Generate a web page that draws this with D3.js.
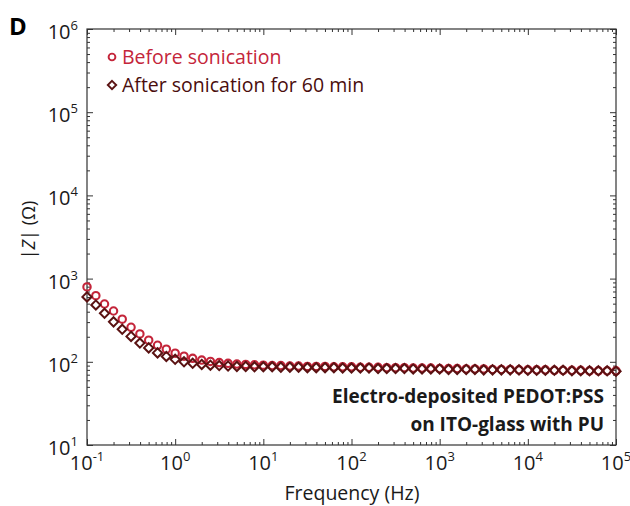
<!DOCTYPE html>
<html><head><meta charset="utf-8">
<script src="https://cdn.jsdelivr.net/npm/d3@7"></script>
<style>body{margin:0;background:#fff}svg{display:block}text{font-family:"Open Sans",sans-serif}</style>
</head><body><svg id="c" width="630" height="506"></svg>
<script>
const frequencies = [
 0.1,0.126,0.158,0.2,0.251,0.316,0.398,0.501,0.631,0.794,
 1,1.26,1.58,2,2.51,3.16,3.98,5.01,6.31,7.94,
 10,12.6,15.8,20,25.1,31.6,39.8,50.1,63.1,79.4,
 100,126,158,200,251,316,398,501,631,794,
 1000,1260,1580,2000,2510,3160,3980,5010,6310,7940,
 10000,12600,15800,20000,25100,31600,39800,50100,63100,79400,100000];
const beforeZ = [
 794,624,495,408,325,260,216,182,158,142,127,
 117,110,105,101,98,96,94,93,92,91,
 90,90,89,89,88,88,88,87,87,87,
 86,86,86,85,85,85,84,84,84,83,
 83,83,82,82,82,81,81,81,80,80,
 80,80,79,79,79,79,78,78,78,78];
const afterZ = [
 603,482,383,302,246,202,168,147,128,116,107,
 100,96,93,91,90,89,88,88,87,87,
 87,86,86,86,85,85,85,85,84,84,
 84,84,83,83,83,83,82,82,82,82,
 81,81,81,81,80,80,80,80,80,79,
 79,79,79,79,78,78,78,78,78,77];
const xMajor = [0.1,1,10,100,1000,10000,100000];
const xMajorExp = ["-1","0","1","2","3","4","5"];
const yMajor = [10,100,1000,10000,100000,1000000];
const yMajorExp = ["1","2","3","4","5","6"];
const seriesNames = ["Before sonication","After sonication for 60 min"];
const annotation = ["Electro-deposited PEDOT:PSS","on ITO-glass with PU"];

const svg = d3.select("#c");
const L=87,R=616,T=29,B=445;
const x = d3.scaleLog().domain([0.1,1e5]).range([L,R]);
const y = d3.scaleLog().domain([10,1e6]).range([B,T]);
const axisCol="#333";
const minors = (dom)=>{const out=[];for(let e=Math.log10(dom[0]);e<Math.log10(dom[1]);e++){for(let m=2;m<=9;m++)out.push(m*Math.pow(10,e));}return out;};
const xMin = minors([0.1,1e5]), yMin = minors([10,1e6]);

function styleAxis(g){g.selectAll("path").remove();g.selectAll("line").attr("stroke",axisCol).attr("stroke-width",1);g.selectAll("text").remove();}
svg.append("g").attr("transform",`translate(0,${B})`).call(d3.axisBottom(x).tickValues(xMajor).tickSize(-6)).call(styleAxis);
svg.append("g").attr("transform",`translate(0,${B})`).call(d3.axisBottom(x).tickValues(xMin).tickSize(-3)).call(styleAxis);
svg.append("g").attr("transform",`translate(0,${T})`).call(d3.axisTop(x).tickValues(xMajor).tickSize(-6)).call(styleAxis);
svg.append("g").attr("transform",`translate(0,${T})`).call(d3.axisTop(x).tickValues(xMin).tickSize(-3)).call(styleAxis);
svg.append("g").attr("transform",`translate(${L},0)`).call(d3.axisLeft(y).tickValues(yMajor).tickSize(-6)).call(styleAxis);
svg.append("g").attr("transform",`translate(${L},0)`).call(d3.axisLeft(y).tickValues(yMin).tickSize(-3)).call(styleAxis);
svg.append("g").attr("transform",`translate(${R},0)`).call(d3.axisRight(y).tickValues(yMajor).tickSize(-6)).call(styleAxis);
svg.append("g").attr("transform",`translate(${R},0)`).call(d3.axisRight(y).tickValues(yMin).tickSize(-3)).call(styleAxis);
svg.append("rect").attr("x",L).attr("y",T).attr("width",R-L).attr("height",B-T).attr("fill","none").attr("stroke",axisCol).attr("stroke-width",1.2);

// tick labels
xMajor.forEach((v,i)=>{
  const t=svg.append("text").attr("x",x(v)).attr("y",470).attr("text-anchor","middle").attr("font-size",20).attr("fill","#1a1a1a");
  t.append("tspan").text("10");
  t.append("tspan").attr("font-size",13).attr("dy",-9).text(xMajorExp[i]);
});
yMajor.forEach((v,i)=>{
  const t=svg.append("text").attr("x",78).attr("y",y(v)+10).attr("text-anchor","end").attr("font-size",20).attr("fill","#1a1a1a");
  t.append("tspan").text("10");
  t.append("tspan").attr("font-size",13).attr("dy",-9).text(yMajorExp[i]);
});

// axis titles
svg.append("text").attr("x",352).attr("y",500).attr("text-anchor","middle").attr("font-size",19.5).attr("fill","#1a1a1a").text("Frequency (Hz)");
const yt=svg.append("text").attr("transform","translate(35,230) rotate(-90)").attr("text-anchor","middle").attr("font-size",18).attr("fill","#1a1a1a");
yt.append("tspan").text("|");
yt.append("tspan").attr("font-style","italic").text("Z");
yt.append("tspan").text("| (Ω)");
svg.append("text").attr("x",9).attr("y",35).attr("font-size",24).attr("font-weight","bold").attr("fill","#000").text("D");

// data
const redC="#c4253a", darkC="#5a1212";
const diamond="M0,-4.6L4.6,0L0,4.6L-4.6,0Z";
svg.append("g").selectAll("circle").data(frequencies).join("circle")
  .attr("cx",d=>x(d)).attr("cy",(d,i)=>y(beforeZ[i])).attr("r",3.7)
  .attr("fill","none").attr("stroke",redC).attr("stroke-width",2.1);
svg.append("g").selectAll("path").data(frequencies).join("path")
  .attr("d",diamond).attr("transform",(d,i)=>`translate(${x(d)},${y(afterZ[i])})`)
  .attr("fill","none").attr("stroke",darkC).attr("stroke-width",2);

// legend
svg.append("circle").attr("cx",112).attr("cy",57).attr("r",3.4).attr("fill","none").attr("stroke",redC).attr("stroke-width",1.9);
svg.append("text").attr("x",122).attr("y",64).attr("font-size",19.5).attr("fill",redC).text(seriesNames[0]);
svg.append("path").attr("d","M0,-4.2L4.2,0L0,4.2L-4.2,0Z").attr("transform","translate(112,85)").attr("fill","none").attr("stroke",darkC).attr("stroke-width",1.9);
svg.append("text").attr("x",122).attr("y",92).attr("font-size",19.5).attr("fill","#4a0d0d").text(seriesNames[1]);

// annotation
annotation.forEach((s,i)=>{
  svg.append("text").attr("x",604).attr("y",403+i*28).attr("text-anchor","end").attr("font-size",19).attr("font-weight","bold").attr("fill","#1a1a1a").text(s);
});
</script></body></html>
